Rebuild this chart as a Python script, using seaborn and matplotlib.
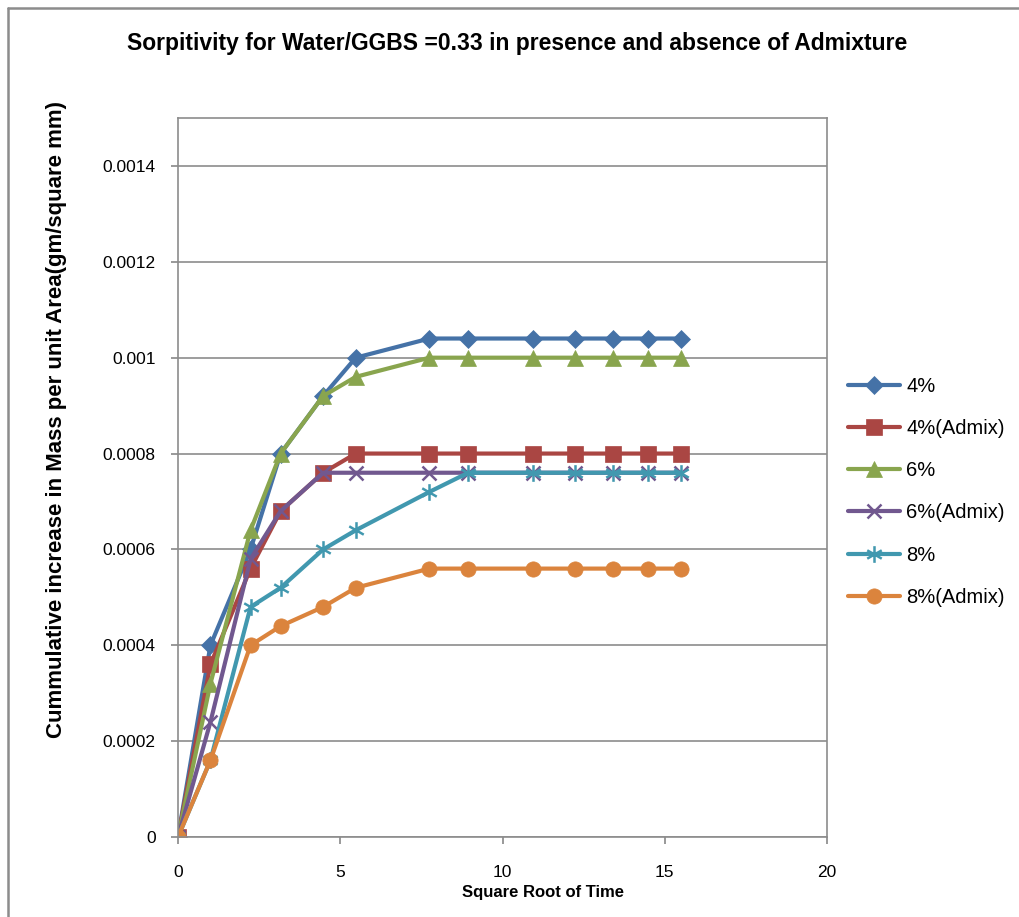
import matplotlib
matplotlib.use("Agg")
import matplotlib.pyplot as plt
from matplotlib.path import Path
from matplotlib.lines import Line2D
import seaborn as sns
import pandas as pd

x_vals = [0, 1, 2.236, 3.162, 4.472, 5.477, 7.746, 8.944, 10.954, 12.247, 13.416, 14.491, 15.492]
s_4 = [0, 0.0004, 0.0006, 0.0008, 0.00092, 0.001, 0.00104, 0.00104, 0.00104, 0.00104, 0.00104, 0.00104, 0.00104]
s_4a = [0, 0.00036, 0.00056, 0.00068, 0.00076, 0.0008, 0.0008, 0.0008, 0.0008, 0.0008, 0.0008, 0.0008, 0.0008]
s_6 = [0, 0.00032, 0.00064, 0.0008, 0.00092, 0.00096, 0.001, 0.001, 0.001, 0.001, 0.001, 0.001, 0.001]
s_6a = [0, 0.00024, 0.00058, 0.00068, 0.00076, 0.00076, 0.00076, 0.00076, 0.00076, 0.00076, 0.00076, 0.00076, 0.00076]
s_8 = [0, 0.00016, 0.00048, 0.00052, 0.0006, 0.00064, 0.00072, 0.00076, 0.00076, 0.00076, 0.00076, 0.00076, 0.00076]
s_8a = [0, 0.00016, 0.0004, 0.00044, 0.00048, 0.00052, 0.00056, 0.00056, 0.00056, 0.00056, 0.00056, 0.00056, 0.00056]
names = ["4%", "4%(Admix)", "6%", "6%(Admix)", "8%", "8%(Admix)"]
y_ticks = [0, 0.0002, 0.0004, 0.0006, 0.0008, 0.001, 0.0012, 0.0014]
y_tick_labels = ["0", "0.0002", "0.0004", "0.0006", "0.0008", "0.001", "0.0012", "0.0014"]
x_ticks = [0, 5, 10, 15, 20]

sns.set_theme(style="white")
plt.rcParams['font.family'] = ['Liberation Sans', 'DejaVu Sans']
for k in ("text.color", "axes.labelcolor", "xtick.color", "ytick.color"):
    plt.rcParams[k] = "black"

asterisk = Path(
    [(0, -1), (0, 1), (-0.87, -0.5), (0.87, 0.5), (-0.87, 0.5), (0.87, -0.5)],
    [Path.MOVETO, Path.LINETO, Path.MOVETO, Path.LINETO, Path.MOVETO, Path.LINETO])

colors = ["#4572A7", "#AA4643", "#89A54E", "#71588F", "#4198AF", "#DB843D"]
markers = ["D", "s", "^", "x", asterisk, "o"]
msizes = [9, 11, 11, 10, 12, 11]
medge = [0.5, 0.5, 0.5, 1.8, 1.8, 0.5]
series = [s_4, s_4a, s_6, s_6a, s_8, s_8a]

fig = plt.figure(figsize=(10.2, 9.17), dpi=100)
ax = fig.add_axes([0.1745, 0.0872, 0.6363, 0.7841])

for name, ys, c, m, ms, me in zip(names, series, colors, markers, msizes, medge):
    df = pd.DataFrame({"x": x_vals, "y": ys})
    sns.lineplot(data=df, x="x", y="y", ax=ax, color=c, marker=m, markersize=ms,
                 linewidth=3.0, label=name, markeredgecolor=c, markerfacecolor=c,
                 markeredgewidth=me, sort=False)

ax.set_xlim(0, 20)
ax.set_ylim(0, 0.0015)
ax.set_xticks(x_ticks)
ax.set_xticklabels([str(t) for t in x_ticks], fontsize=12.5)
ax.set_yticks(y_ticks)
ax.set_yticklabels(y_tick_labels, fontsize=12.5)
ax.yaxis.grid(True, color="#8c8c8c", linewidth=1.2)
ax.xaxis.grid(False)
for sp in ax.spines.values():
    sp.set_color("#8c8c8c")
    sp.set_linewidth(1.2)
ax.tick_params(axis="y", which="both", direction="out", length=5, color="#8c8c8c",
               left=True, labelcolor="black", pad=11)
ax.tick_params(axis="x", which="both", direction="out", length=5, color="#8c8c8c",
               bottom=True, labelcolor="black", pad=15)

ax.set_xlabel("Square Root of Time", fontsize=12, fontweight="bold")
ax.xaxis.set_label_coords(0.562, -0.067)
ax.set_ylabel("Cummulative increase in Mass per unit Area(gm/square mm)", fontsize=16,
              fontweight="bold")
ax.yaxis.set_label_coords(-0.171, 0.581)
fig.text(0.507, 0.953, "Sorpitivity for Water/GGBS =0.33 in presence and absence of Admixture",
         ha="center", va="center", fontsize=16.5, fontweight="bold")

ax.legend(loc="center left", bbox_to_anchor=(1.02, 0.48), frameon=False, fontsize=14.5,
          labelspacing=1.15, handlelength=2.6, handletextpad=0.3, borderaxespad=0)

fig.add_artist(Line2D([0.0075, 0.0075], [0, 0.9913], transform=fig.transFigure, color="#8c8c8c", linewidth=1.8))
fig.add_artist(Line2D([0.0075, 1.0], [0.9913, 0.9913], transform=fig.transFigure, color="#8c8c8c", linewidth=1.8))

fig.savefig("out.png", dpi=100)
